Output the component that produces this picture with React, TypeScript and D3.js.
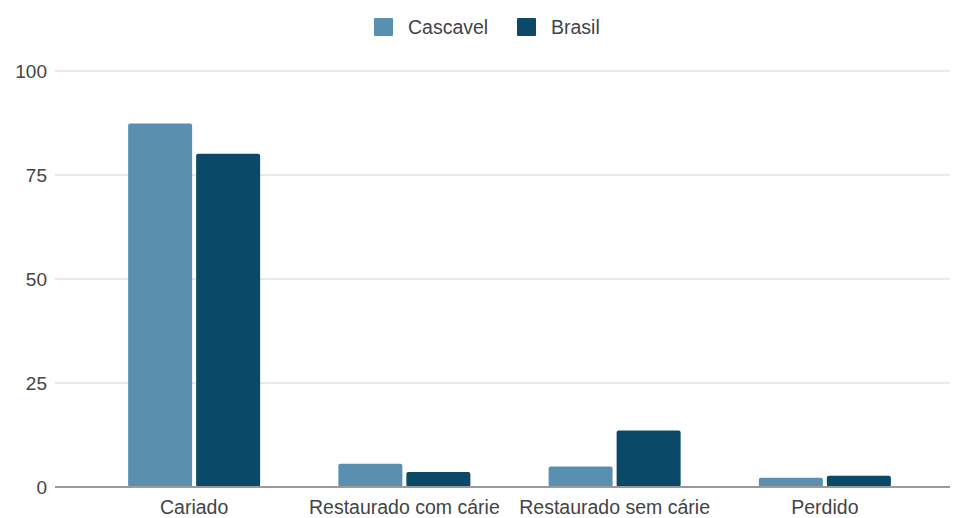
import React, { useEffect } from "react";
import * as d3 from "d3";

const categories = ["Cariado", "Restaurado com cárie", "Restaurado sem cárie", "Perdido"];
const seriesNames = ["Cascavel", "Brasil"];
const cascavelValues = [87.4, 5.6, 4.9, 2.2];
const brasilValues = [80.1, 3.6, 13.6, 2.7];
const yTicks = [0, 25, 50, 75, 100];
const colors = ["#5b8fb0", "#0b4968"];

const W = 955;
const H = 518;
const FONT = "'Liberation Sans', Arial, sans-serif";

export default function App() {
  useEffect(() => {
    document.body.style.margin = "0";
  }, []);

  const y = d3.scaleLinear().domain([0, 100]).range([487, 71]);
  const x0 = d3.scaleBand<string>().domain(categories).range([89, 930]).padding(0);
  const x1 = d3
    .scaleBand<string>()
    .domain(seriesNames)
    .range([0, 132])
    .paddingInner(0.0588);
  const values = [cascavelValues, brasilValues];

  return (
    <svg width={W} height={H} style={{ display: "block", background: "#fff" }}>
      {/* gridlines */}
      {yTicks.map((t) =>
        t === 0 ? null : (
          <line key={"g" + t} x1={55} x2={950} y1={y(t)} y2={y(t)} stroke="#e3e3e3" strokeWidth={1.5} />
        )
      )}
      {/* y tick labels */}
      {yTicks.map((t) => (
        <text
          key={"t" + t}
          x={47}
          y={y(t)}
          dy="0.35em"
          textAnchor="end"
          fontFamily={FONT}
          fontSize={19}
          fill="#444"
        >
          {t}
        </text>
      ))}
      {/* bars */}
      {categories.map((c, i) => {
        const cx = (x0(c) ?? 0) + x0.bandwidth() / 2;
        const gx = cx - 66;
        return seriesNames.map((s, j) => {
          const v = values[j][i];
          return (
            <rect
              key={c + s}
              x={gx + (x1(s) ?? 0)}
              y={y(v)}
              width={x1.bandwidth()}
              height={y(0) - y(v)}
              rx={2}
              fill={colors[j]}
            />
          );
        });
      })}
      {/* baseline */}
      <line x1={55} x2={950} y1={y(0)} y2={y(0)} stroke="#9a9a9a" strokeWidth={2} />
      {/* category labels */}
      {categories.map((c) => (
        <text
          key={"c" + c}
          x={(x0(c) ?? 0) + x0.bandwidth() / 2}
          y={514}
          textAnchor="middle"
          fontFamily={FONT}
          fontSize={19.5}
          fill="#444"
        >
          {c}
        </text>
      ))}
      {/* legend */}
      {seriesNames.map((s, j) => {
        const lx = j === 0 ? 374 : 517;
        return (
          <g key={"l" + s}>
            <rect x={lx} y={18} width={19} height={18} fill={colors[j]} rx={1} />
            <text
              x={lx + 34}
              y={27}
              dy="0.35em"
              fontFamily={FONT}
              fontSize={19.5}
              fill="#444"
            >
              {s}
            </text>
          </g>
        );
      })}
    </svg>
  );
}
